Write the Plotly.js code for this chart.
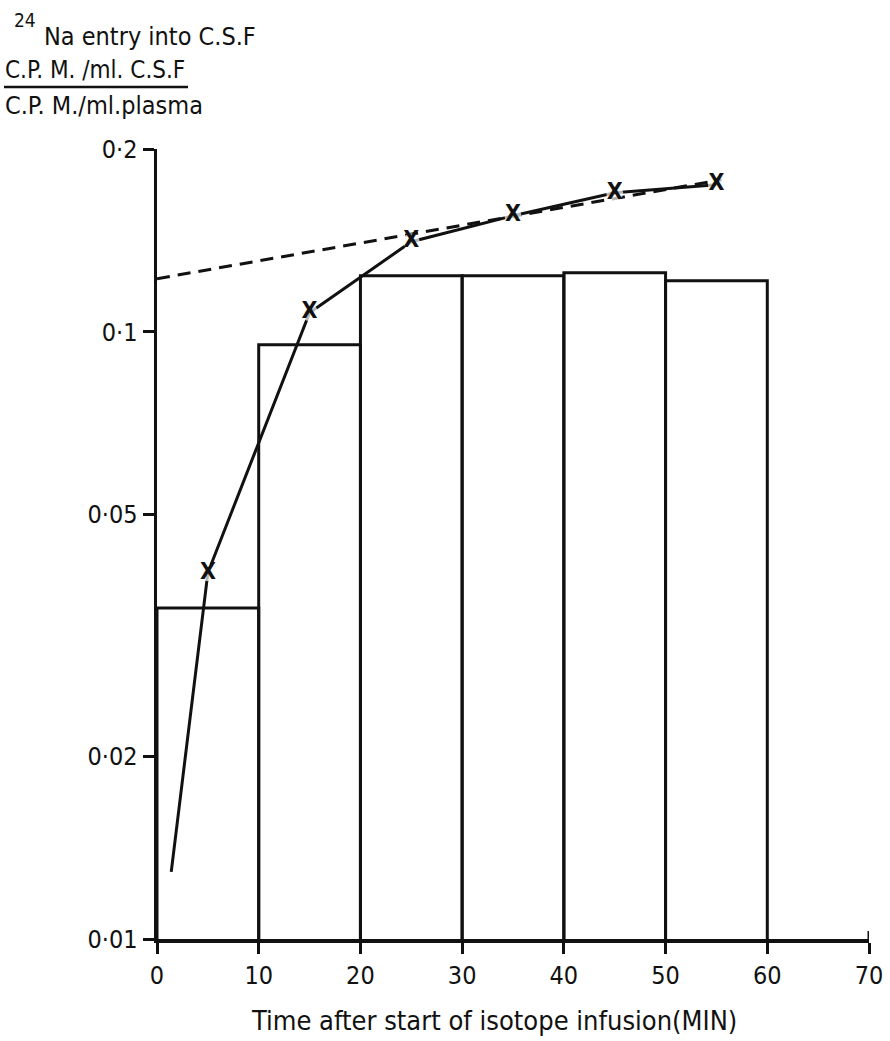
<!DOCTYPE html>
<html>
<head>
<meta charset="utf-8">
<script src="https://cdn.plot.ly/plotly-3.0.1.min.js"></script>
<style>html,body{margin:0;padding:0;background:#fff;}#chart{width:890px;height:1041px;}</style>
</head>
<body>
<div id="chart"></div>
<script>
// Bars: mean C.S.F./plasma ratio for each 10-minute interval
const barTimes = [5, 15, 25, 35, 45, 55];
const barValues = [0.0351, 0.0952, 0.1237, 0.1237, 0.1251, 0.1213];

// Curve through the "X" points
const curveTimes = [1.4, 5, 15, 25, 35, 45, 55];
const curveValues = [0.0129, 0.0401, 0.1075, 0.1407, 0.1553, 0.1694, 0.1747];
const curveLabels = ["", "X", "X", "X", "X", "X", "X"];

// Dashed extrapolation back to time zero
const dashTimes = [0, 55.5];
const dashValues = [0.1223, 0.178];

// Axis ticks
const xTicks = [0, 10, 20, 30, 40, 50, 60, 70];
const yTicks = [0.01, 0.02, 0.05, 0.1, 0.2];
const yTickLabels = ["0·01", "0·02", "0·05", "0·1", "0·2"];

const FONT = "DejaVu Sans Condensed, DejaVu Sans, Liberation Sans, sans-serif";

const W = 890, H = 1041;
const M = {l: 157, r: 21, t: 149, b: 102};
const pw = W - M.l - M.r, ph = H - M.t - M.b;
const px = x => (x - M.l) / pw;
const py = y => (H - M.b - y) / ph;

const traces = [
  {
    type: "bar", x: barTimes, y: barValues, width: 10,
    marker: {color: "rgba(0,0,0,0)", line: {color: "#111", width: 3}},
    hoverinfo: "skip"
  },
  {
    type: "scatter", mode: "lines", x: dashTimes, y: dashValues,
    line: {color: "#111", width: 3, dash: "13px,8px"},
    hoverinfo: "skip"
  },
  {
    type: "scatter", mode: "lines+markers+text", x: curveTimes, y: curveValues,
    line: {color: "#111", width: 3},
    marker: {symbol: "circle", color: "#ffffff", size: curveLabels.map(t => t ? 17 : 0), line: {width: 0}},
    text: curveLabels.map(t => t ? "<b>" + t + "</b>" : ""),
    textposition: "middle center",
    textfont: {family: FONT, size: 23, color: "#111"},
    hoverinfo: "skip"
  }
];

const layout = {
  width: W, height: H,
  margin: M,
  paper_bgcolor: "#fff", plot_bgcolor: "#fff",
  showlegend: false, hovermode: false, bargap: 0,
  font: {family: FONT, color: "#111"},
  xaxis: {
    range: [0, 70], tickvals: xTicks, ticktext: xTicks.map(String),
    ticks: "outside", ticklen: 11, tickwidth: 3, tickcolor: "#111",
    showline: true, linecolor: "#111", linewidth: 3.5, showgrid: false, zeroline: false,
    tickfont: {family: FONT, size: 25, color: "#111"}
  },
  yaxis: {
    type: "log", range: [Math.log10(0.01), Math.log10(0.2)],
    tickvals: yTicks, ticktext: yTickLabels,
    ticks: "outside", ticklen: 11, tickwidth: 3, tickcolor: "#111",
    showline: true, linecolor: "#111", linewidth: 3.5, showgrid: false, zeroline: false,
    tickfont: {family: FONT, size: 25, color: "#111"}
  },
  shapes: [
    {type: "line", xref: "paper", yref: "paper", x0: px(4), x1: px(188), y0: py(87), y1: py(87), line: {color: "#111", width: 2.5}},
    {type: "line", xref: "x", yref: "paper", x0: 70, x1: 70, y0: 0, y1: py(931), line: {color: "#111", width: 3}}
  ],
  annotations: [
    {xref: "paper", yref: "paper", x: px(12), y: py(20), xanchor: "left", yanchor: "middle", showarrow: false,
     text: "24", font: {family: FONT, size: 19, color: "#111"}},
    {xref: "paper", yref: "paper", x: px(42), y: py(37), xanchor: "left", yanchor: "middle", showarrow: false,
     text: "Na entry into C.S.F", font: {family: FONT, size: 25, color: "#111"}},
    {xref: "paper", yref: "paper", x: px(3), y: py(70), xanchor: "left", yanchor: "middle", showarrow: false,
     text: "C.P. M. /ml. C.S.F", font: {family: FONT, size: 24, color: "#111"}},
    {xref: "paper", yref: "paper", x: px(3), y: py(106), xanchor: "left", yanchor: "middle", showarrow: false,
     text: "C.P. M./ml.plasma", font: {family: FONT, size: 25, color: "#111"}},
    {xref: "paper", yref: "paper", x: px(494), y: py(1020), xanchor: "center", yanchor: "middle", showarrow: false,
     text: "Time after start of isotope infusion(MIN)", font: {family: FONT, size: 27, color: "#111"}}
  ]
};

Plotly.newPlot("chart", traces, layout, {displayModeBar: false, staticPlot: true});
</script>
</body>
</html>
